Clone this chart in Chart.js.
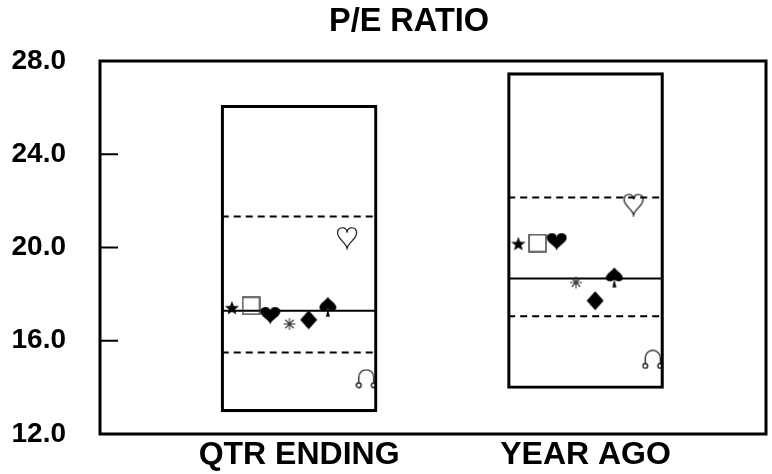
<!DOCTYPE html>
<html>
<head>
<meta charset="utf-8">
<title>P/E Ratio</title>
<script src="https://cdn.jsdelivr.net/npm/chart.js@4.4.0/dist/chart.umd.min.js"></script>
<style>
  html, body { margin: 0; padding: 0; background: #fff; }
  #wrap { width: 772px; height: 474px; }
</style>
</head>
<body>
<div id="wrap"><canvas id="peChart" width="772" height="474"></canvas></div>
<script>
// categories along the bottom
const categories = ['QTR ENDING', 'YEAR AGO'];
const yTicks = [12, 16, 20, 24, 28];
const chartTitle = 'P/E RATIO';

// range box and quartile/median lines per category
const highs = [26.1, 27.5];
const lows = [12.95, 13.95];
const upperQuartiles = [21.33, 22.15];
const medians = [17.29, 18.67];
const lowerQuartiles = [15.5, 17.05];

// one value per category for each marker symbol
const starValues = [17.42, 20.17];
const squareValues = [17.5, 20.19];
const heartValues = [17.1, 20.27];
const asteriskValues = [16.72, 18.5];
const diamondValues = [16.9, 17.72];
const spadeValues = [17.45, 18.72];
const openHeartValues = [20.43, 21.86];
const omegaValues = [14.37, 15.2];

const BOX_HALF = 0.27;     // half box width, x units
const MARK_STEP = 0.067;   // spacing between markers inside a box
const FONT = 'Liberation Sans, Arial, sans-serif';

function makeSymbol(w, h, draw) {
  const c = document.createElement('canvas');
  c.width = w; c.height = h;
  const ctx = c.getContext('2d');
  draw(ctx, w, h);
  return c;
}

function heartPath(ctx, l, t, w, h) {
  const cx = l + w / 2, r = l + w, b = t + h;
  ctx.beginPath();
  ctx.moveTo(cx, t + h * 0.28);
  ctx.bezierCurveTo(cx, t - h * 0.02, l, t - h * 0.02, l, t + h * 0.3);
  ctx.bezierCurveTo(l, t + h * 0.58, cx - w * 0.05, t + h * 0.72, cx, b);
  ctx.bezierCurveTo(cx + w * 0.05, t + h * 0.72, r, t + h * 0.58, r, t + h * 0.3);
  ctx.bezierCurveTo(r, t - h * 0.02, cx, t - h * 0.02, cx, t + h * 0.28);
  ctx.closePath();
}

const symbols = {
  star: makeSymbol(16, 16, (ctx, w, h) => {
    ctx.beginPath();
    for (let k = 0; k < 10; k++) {
      const a = -Math.PI / 2 + k * Math.PI / 5;
      const r = k % 2 === 0 ? 7.5 : 3.1;
      const px = w / 2 + r * Math.cos(a), py = h / 2 + 0.8 + r * Math.sin(a);
      k === 0 ? ctx.moveTo(px, py) : ctx.lineTo(px, py);
    }
    ctx.closePath();
    ctx.fillStyle = '#000';
    ctx.fill();
  }),
  square: makeSymbol(19, 19, (ctx) => {
    ctx.strokeStyle = '#333';
    ctx.lineWidth = 1.4;
    ctx.strokeRect(1, 1, 17, 17);
  }),
  heart: makeSymbol(21, 20, (ctx) => {
    heartPath(ctx, 0.5, 1, 20, 18.5);
    ctx.fillStyle = '#000';
    ctx.fill();
  }),
  asterisk: makeSymbol(14, 14, (ctx, w, h) => {
    ctx.strokeStyle = '#333';
    ctx.lineWidth = 1.1;
    ctx.beginPath();
    for (let k = 0; k < 4; k++) {
      const a = k * Math.PI / 4;
      ctx.moveTo(w / 2 - 6 * Math.cos(a), h / 2 - 6 * Math.sin(a));
      ctx.lineTo(w / 2 + 6 * Math.cos(a), h / 2 + 6 * Math.sin(a));
    }
    ctx.stroke();
  }),
  diamond: makeSymbol(18, 20, (ctx, w, h) => {
    ctx.beginPath();
    ctx.moveTo(w / 2, 0.5);
    ctx.lineTo(w - 0.5, h / 2);
    ctx.lineTo(w / 2, h - 0.5);
    ctx.lineTo(0.5, h / 2);
    ctx.closePath();
    ctx.fillStyle = '#000';
    ctx.fill();
  }),
  spade: makeSymbol(18, 21, (ctx, w) => {
    const cx = w / 2;
    ctx.fillStyle = '#000';
    ctx.beginPath();
    ctx.moveTo(cx, 0.5);
    ctx.bezierCurveTo(cx + 2, 4, w - 0.5, 7, w - 0.5, 11);
    ctx.bezierCurveTo(w - 0.5, 15, cx + 2.5, 15.5, cx, 12.5);
    ctx.bezierCurveTo(cx - 2.5, 15.5, 0.5, 15, 0.5, 11);
    ctx.bezierCurveTo(0.5, 7, cx - 2, 4, cx, 0.5);
    ctx.closePath();
    ctx.fill();
    ctx.beginPath();
    ctx.moveTo(cx, 12);
    ctx.lineTo(cx + 2, 20.5);
    ctx.lineTo(cx - 2, 20.5);
    ctx.closePath();
    ctx.fill();
  }),
  openHeart: makeSymbol(22, 25, (ctx) => {
    heartPath(ctx, 1.5, 1.5, 19, 22);
    ctx.strokeStyle = '#000';
    ctx.lineWidth = 1.1;
    ctx.stroke();
  }),
  omega: makeSymbol(22, 20, (ctx, w) => {
    const cx = w / 2, r = 7.5;
    ctx.strokeStyle = '#000';
    ctx.lineWidth = 1.2;
    ctx.beginPath();
    ctx.arc(cx, 8.5, r, Math.PI, 2 * Math.PI, false);
    ctx.lineTo(cx + r, 14);
    ctx.moveTo(cx - r, 8.5);
    ctx.lineTo(cx - r, 14);
    ctx.stroke();
    ctx.beginPath();
    ctx.arc(cx - r, 16.5, 2.4, 0, 2 * Math.PI);
    ctx.moveTo(cx + r + 2.4, 16.5);
    ctx.arc(cx + r, 16.5, 2.4, 0, 2 * Math.PI);
    ctx.stroke();
  })
};

const markerSeries = [
  { style: symbols.star, values: starValues },
  { style: symbols.square, values: squareValues },
  { style: symbols.heart, values: heartValues },
  { style: symbols.asterisk, values: asteriskValues },
  { style: symbols.diamond, values: diamondValues },
  { style: symbols.spade, values: spadeValues },
  { style: symbols.openHeart, values: openHeartValues },
  { style: symbols.omega, values: omegaValues }
];

// category i sits at x = i + 1
const catX = categories.map((c, i) => i + 1);

function hLine(values) {
  const pts = [];
  values.forEach((v, i) => {
    if (i > 0) pts.push({ x: catX[i] - 0.5, y: null });
    pts.push({ x: catX[i] - BOX_HALF, y: v }, { x: catX[i] + BOX_HALF, y: v });
  });
  return pts;
}

const markerSets = markerSeries.map((s, k) => ({
  type: 'scatter',
  data: s.values.map((v, i) => ({ x: catX[i] + (k - 3.5) * MARK_STEP, y: v })),
  pointStyle: s.style,
  pointRadius: 5,
  order: 1
}));

const lineStyle = { type: 'line', pointRadius: 0, borderColor: '#000', borderWidth: 2, spanGaps: false, fill: false, order: 2 };

// frame round the plot area, short inward ticks on the left, and the heading
const framePlugin = {
  id: 'frame',
  afterDraw(chart) {
    const { ctx, chartArea: a, scales } = chart;
    ctx.save();
    ctx.strokeStyle = '#000';
    ctx.lineWidth = 3;
    ctx.strokeRect(a.left, a.top, a.right - a.left, a.bottom - a.top);
    ctx.lineWidth = 2;
    ctx.beginPath();
    yTicks.forEach(v => {
      const y = scales.y.getPixelForValue(v);
      ctx.moveTo(a.left, y);
      ctx.lineTo(a.left + 18, y);
    });
    ctx.stroke();
    ctx.fillStyle = '#000';
    ctx.font = 'bold 32.5px ' + FONT;
    ctx.textAlign = 'center';
    ctx.textBaseline = 'middle';
    ctx.fillText(chartTitle, 409, 22);
    ctx.restore();
  }
};

new Chart(document.getElementById('peChart'), {
  type: 'bar',
  data: {
    datasets: [
      ...markerSets,
      Object.assign({ data: hLine(medians) }, lineStyle),
      Object.assign({ data: hLine(upperQuartiles), borderDash: [7, 5] }, lineStyle),
      Object.assign({ data: hLine(lowerQuartiles), borderDash: [7, 5] }, lineStyle),
      {
        type: 'bar',
        data: catX.map((x, i) => ({ x: x, y: [lows[i], highs[i]] })),
        backgroundColor: 'rgba(0,0,0,0)',
        borderColor: '#000',
        borderWidth: 2.5,
        borderSkipped: false,
        barThickness: 156,
        order: 3
      }
    ]
  },
  options: {
    responsive: false,
    animation: false,
    devicePixelRatio: 1,
    layout: { padding: { left: 0, right: 1.5, top: 61, bottom: 0 } },
    plugins: {
      legend: { display: false },
      tooltip: { enabled: false },
      title: { display: false }
    },
    scales: {
      x: {
        type: 'linear',
        min: 0.305,
        max: 2.63,
        offset: false,
        grid: { display: false, drawTicks: false },
        border: { display: false },
        afterBuildTicks(scale) { scale.ticks = catX.map(v => ({ value: v })); },
        afterFit(scale) {
          scale.height = 40;
          scale.paddingLeft = 0;
          scale.paddingRight = 0;
        },
        ticks: {
          padding: 2,
          color: '#000',
          font: { family: FONT, size: 32, weight: 'bold' },
          callback: (v) => categories[Math.round(v) - 1] || ''
        }
      },
      y: {
        min: 12,
        max: 28,
        grid: { display: false, drawTicks: false },
        border: { display: false },
        afterBuildTicks(scale) { scale.ticks = yTicks.map(v => ({ value: v })); },
        afterFit(scale) {
          scale.width = 100;
          // the wide label gap should not push the plot area in vertically
          scale.paddingTop = 0;
          scale.paddingBottom = 0;
        },
        ticks: {
          padding: 34,
          color: '#000',
          font: { family: FONT, size: 28, weight: 'bold' },
          callback: (v) => Number(v).toFixed(1)
        }
      }
    }
  },
  plugins: [framePlugin]
});
</script>
</body>
</html>
